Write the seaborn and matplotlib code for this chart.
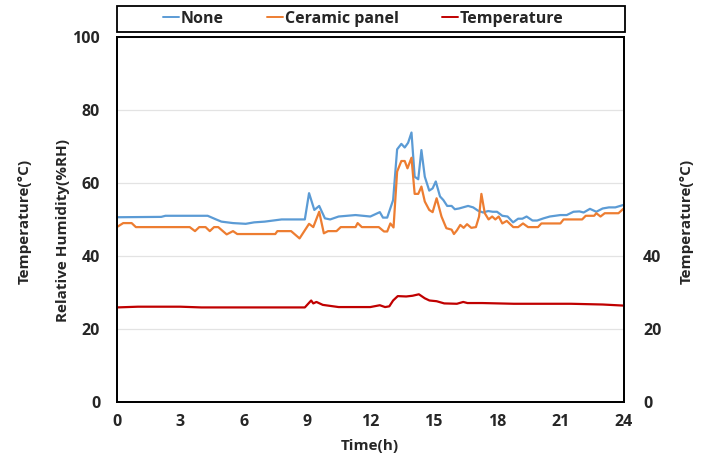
import matplotlib
matplotlib.use('Agg')
import matplotlib.pyplot as plt
from matplotlib.patches import Rectangle
import seaborn as sns
import pandas as pd

# ---- data ----
none_t = [0, 2.1, 2.3, 4.3, 4.7, 4.95, 5.5, 6.1, 6.5, 7.0, 7.8, 8.9, 9.1, 9.35, 9.58, 9.85,
          10.1, 10.5, 11.3, 12.0, 12.45, 12.6, 12.8, 13.08, 13.27, 13.47, 13.63, 13.79, 13.95,
          14.1, 14.27, 14.42, 14.58, 14.79, 14.95, 15.1, 15.3, 15.46, 15.64, 15.85, 16.0, 16.2,
          16.63, 16.87, 17.1, 17.34, 17.58, 17.8, 18.0, 18.25, 18.5, 18.76, 19.0, 19.2, 19.4,
          19.68, 19.9, 20.2, 20.5, 21.0, 21.3, 21.62, 21.9, 22.1, 22.4, 22.7, 23.0, 23.3, 23.6, 24.0]
none_rh = [50.6, 50.7, 51.0, 51.0, 50.0, 49.4, 49.0, 48.8, 49.2, 49.4, 50.0, 50.0, 57.2, 52.6, 53.7, 50.3,
           50.0, 50.8, 51.2, 50.8, 52.0, 50.5, 50.5, 55.3, 69.2, 70.7, 69.7, 71.0, 73.8,
           61.7, 61.0, 69.0, 61.7, 57.9, 58.5, 60.4, 56.3, 55.3, 53.7, 53.7, 52.8, 53.0,
           53.7, 53.3, 52.4, 51.9, 52.3, 52.1, 52.1, 51.0, 50.8, 49.2, 50.2, 50.2, 50.8,
           49.7, 49.7, 50.3, 50.8, 51.2, 51.2, 52.1, 52.2, 51.9, 52.9, 52.1, 53.0, 53.3, 53.3, 54.0]

ceramic_t = [0, 0.3, 0.7, 0.9, 3.45, 3.7, 3.9, 4.2, 4.4, 4.6, 4.8, 5.2, 5.5, 5.7, 7.5, 7.6, 8.25,
             8.65, 9.1, 9.3, 9.58, 9.8, 10.0, 10.4, 10.6, 11.3, 11.4, 11.6, 12.4, 12.65, 12.8, 12.95,
             13.1, 13.27, 13.47, 13.63, 13.76, 13.95, 14.1, 14.27, 14.42, 14.58, 14.79, 14.95, 15.14,
             15.37, 15.6, 15.85, 15.96, 16.1, 16.26, 16.42, 16.58, 16.78, 17.0, 17.15, 17.26, 17.42,
             17.6, 17.77, 17.92, 18.08, 18.25, 18.46, 18.77, 19.0, 19.23, 19.47, 19.94, 20.1, 21.0,
             21.15, 22.03, 22.2, 22.6, 22.7, 22.9, 23.1, 23.75, 24.0]
ceramic_rh = [47.9, 49.0, 49.0, 47.9, 47.9, 46.8, 47.9, 47.9, 46.8, 47.9, 47.9, 45.9, 46.8, 46.0, 46.0, 46.8, 46.8,
              44.8, 48.8, 47.9, 52.1, 46.2, 46.8, 46.8, 47.9, 47.9, 49.0, 47.9, 47.9, 46.7, 46.7, 48.9,
              47.8, 63.1, 66.0, 66.0, 64.0, 66.9, 57.0, 57.0, 59.0, 54.9, 52.6, 52.0, 55.8,
              50.8, 47.6, 47.2, 46.0, 47.0, 48.5, 47.7, 48.7, 47.7, 47.9, 50.8, 57.0, 51.7,
              50.0, 50.8, 50.0, 50.8, 48.9, 49.6, 47.9, 47.9, 48.9, 47.9, 47.9, 48.9, 48.9,
              50.0, 50.0, 51.0, 51.0, 51.7, 50.8, 51.7, 51.7, 53.0]

temp_t = [0, 1.0, 3.0, 4.0, 8.9, 9.2, 9.3, 9.45, 9.75, 10.5, 11.7, 12.0, 12.45, 12.7, 12.9, 13.08,
          13.3, 13.7, 14.0, 14.3, 14.58, 14.8, 15.14, 15.5, 16.1, 16.4, 16.6, 17.3, 18.8, 21.5, 23.0, 24.0]
temp_c = [25.9, 26.1, 26.1, 25.9, 25.9, 27.8, 27.0, 27.4, 26.6, 26.0, 26.0, 26.0, 26.5, 26.0, 26.2, 27.8,
          29.0, 28.9, 29.1, 29.5, 28.4, 27.8, 27.6, 27.0, 26.9, 27.4, 27.1, 27.1, 26.9, 26.9, 26.7, 26.4]

x_ticks = [0, 3, 6, 9, 12, 15, 18, 21, 24]
left_ticks = [0, 20, 40, 60, 80, 100]
right_ticks = [0, 20, 40]

df_none = pd.DataFrame({'t': none_t, 'v': none_rh})
df_cer = pd.DataFrame({'t': ceramic_t, 'v': ceramic_rh})
df_temp = pd.DataFrame({'t': temp_t, 'v': temp_c})

sns.set_style('white')
plt.rcParams['font.family'] = ['Open Sans', 'DejaVu Sans']
plt.rcParams['font.weight'] = 'bold'

fig = plt.figure(figsize=(7.04, 4.61), dpi=100)
ax = fig.add_axes([0.166, 0.128, 0.720, 0.792])

sns.lineplot(data=df_none, x='t', y='v', color='#5B9BD5', lw=1.6, ax=ax, label='None', sort=False)
sns.lineplot(data=df_cer, x='t', y='v', color='#ED7D31', lw=1.6, ax=ax, label='Ceramic panel', sort=False)

ax2 = ax.twinx()
sns.lineplot(data=df_temp, x='t', y='v', color='#C00000', lw=1.6, ax=ax2, label='Temperature', sort=False)

ax.set_xlim(0, 24)
ax.set_ylim(0, 100)
ax2.set_ylim(0, 100)
ax.set_xticks(x_ticks)
ax.set_yticks(left_ticks)
ax2.set_yticks(right_ticks)
ax.yaxis.grid(True, color='#e3e3e3', lw=0.9)
ax.set_axisbelow(True)

for a in (ax, ax2):
    for s in a.spines.values():
        s.set_color('black')
        s.set_linewidth(1.3)
    a.tick_params(length=0, labelsize=11.5)
ax.tick_params(axis='x', pad=9)
ax.tick_params(axis='y', pad=12)
ax2.tick_params(axis='y', pad=14)
for lbl in ax.get_xticklabels() + ax.get_yticklabels() + ax2.get_yticklabels():
    lbl.set_fontweight('bold')

ax.set_xlabel('Time(h)', fontsize=11, fontweight='bold', labelpad=6)
ax.set_ylabel('')
ax2.set_ylabel('')
# axis titles placed in figure coords
fig.text(0.090, 0.50, 'Relative Humidity(%RH)', rotation=90, ha='center', va='center',
         fontsize=11, fontweight='bold')
fig.text(0.035, 0.52, 'Temperature(°C)', rotation=90, ha='center', va='center',
         fontsize=11, fontweight='bold')
fig.text(0.975, 0.52, 'Temperature(°C)', rotation=90, ha='center', va='center',
         fontsize=11, fontweight='bold')

# legend box above the plot
ax.get_legend().remove()
ax2.get_legend().remove()
fig.patches.append(Rectangle((0.166, 0.931), 0.722, 0.056, transform=fig.transFigure,
                             fill=False, edgecolor='black', lw=1.3))
h1, l1 = ax.get_legend_handles_labels()
h2, l2 = ax2.get_legend_handles_labels()
leg = fig.legend(h1 + h2, l1 + l2, loc='center', bbox_to_anchor=(0.516, 0.959),
                 ncol=3, frameon=False, handlelength=1.0, handletextpad=0.1,
                 columnspacing=2.7, prop={'weight': 'bold', 'size': 11.5})
for line in leg.get_lines():
    line.set_linewidth(1.4)

fig.savefig('out.png', dpi=100)
